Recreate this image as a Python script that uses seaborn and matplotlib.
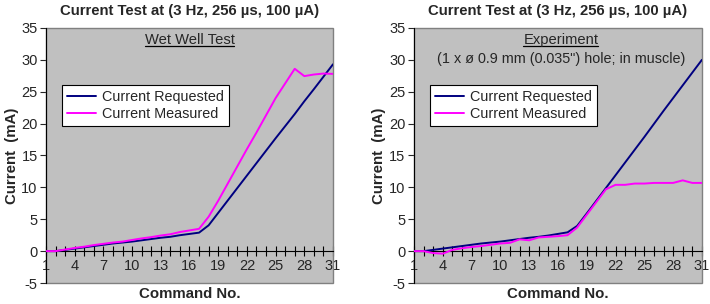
import numpy as np
import pandas as pd
import matplotlib
matplotlib.use('Agg')
import matplotlib.pyplot as plt
import seaborn as sns
from matplotlib.patches import Rectangle
from matplotlib.lines import Line2D

sns.set_style('ticks')
plt.rcParams['font.family'] = ['Liberation Sans', 'DejaVu Sans']
plt.rcParams['axes.unicode_minus'] = False

# ---- data ----
commands = list(range(1, 32))

wet_requested = [0, 0, 0.2, 0.4, 0.6, 0.8, 1.0, 1.2, 1.35, 1.5, 1.7, 1.9, 2.1, 2.25, 2.5, 2.7, 2.9,
                 4.05, 6.0, 7.95, 9.9, 11.85, 13.8, 15.75, 17.7, 19.6, 21.5, 23.5, 25.4, 27.35, 29.3]
wet_measured = [0, 0, 0.25, 0.5, 0.7, 0.95, 1.15, 1.35, 1.5, 1.75, 2.0, 2.2, 2.45, 2.65, 3.0, 3.25, 3.5,
                5.4, 7.9, 10.6, 13.3, 16.0, 18.6, 21.3, 24.0, 26.3, 28.6, 27.45, 27.7, 27.85, 27.8]

exp_requested = [0, 0, 0.2, 0.4, 0.6, 0.8, 1.0, 1.2, 1.35, 1.5, 1.7, 1.9, 2.1, 2.25, 2.45, 2.7, 2.95,
                 3.95, 5.9, 7.9, 9.9, 11.9, 13.9, 15.9, 17.9, 19.95, 22.0, 24.0, 26.0, 28.0, 30.0]
exp_measured = [0, 0, -0.3, -0.4, 0.2, 0.45, 0.65, 0.8, 1.0, 1.2, 1.3, 1.85, 1.7, 2.15, 2.25, 2.35, 2.5,
                3.7, 5.7, 7.7, 9.7, 10.4, 10.4, 10.6, 10.6, 10.7, 10.7, 10.7, 11.1, 10.7, 10.7]

title = 'Current Test at (3 Hz, 256 µs, 100 µA)'
x_ticks = list(range(1, 32, 3))
y_ticks = list(range(-5, 36, 5))

BLUE = '#000080'
MAGENTA = '#FF00FF'
BG = '#C0C0C0'


def underlined(fig, ax, x, y, s, fs):
    t = ax.text(x, y, s, transform=ax.transAxes, ha='center', va='center', fontsize=fs)
    fig.canvas.draw()
    bb = t.get_window_extent().transformed(ax.transAxes.inverted())
    ax.add_line(Line2D([bb.x0, bb.x1], [bb.y0 + 0.004, bb.y0 + 0.004], transform=ax.transAxes,
                       color='black', lw=0.9, clip_on=False))


def draw_panel(fig, ax, requested, measured):
    df = pd.DataFrame({'Command': commands * 2,
                       'Current': requested + measured,
                       'Series': ['Current Requested'] * len(commands) + ['Current Measured'] * len(commands)})
    sns.lineplot(data=df, x='Command', y='Current', hue='Series',
                 palette={'Current Requested': BLUE, 'Current Measured': MAGENTA},
                 linewidth=1.4, ax=ax, zorder=3)
    ax.set_facecolor(BG)
    ax.set_xlim(1, 31)
    ax.set_ylim(-5, 35)
    ax.set_xticks(x_ticks)
    ax.set_xticks(commands, minor=True)
    ax.set_yticks(y_ticks)
    ax.spines['bottom'].set_position(('data', 0))
    ax.spines['bottom'].set_color('black')
    ax.spines['bottom'].set_linewidth(0.8)
    ax.spines['left'].set_color('black')
    ax.spines['left'].set_linewidth(0.8)
    ax.spines['top'].set_visible(False)
    ax.spines['right'].set_visible(False)
    ax.add_patch(Rectangle((0, 0), 1, 1, transform=ax.transAxes, fill=False,
                           edgecolor='#808080', lw=1.0, zorder=1, clip_on=False))
    ax.tick_params(axis='x', which='both', direction='inout', length=7, width=0.8,
                   labelsize=10.5, pad=2, color='black')
    ax.tick_params(axis='y', direction='out', length=4, width=0.8, labelsize=10.5, pad=2)
    ax.set_xlabel('Command No.', fontweight='bold', fontsize=10.8)
    ax.xaxis.set_label_coords(0.5, -0.015)
    ax.set_ylabel('Current  (mA)', fontweight='bold', fontsize=10.8, labelpad=2)
    ax.set_title(title, fontweight='bold', fontsize=10.7, pad=9)
    ax.grid(False)
    leg = ax.legend(loc='upper left', bbox_to_anchor=(0.055, 0.776), frameon=True, fancybox=False,
                    fontsize=10.4, handlelength=2.0, borderpad=0.35, labelspacing=0.18,
                    handletextpad=0.45, borderaxespad=0)
    leg.get_frame().set_edgecolor('black')
    leg.get_frame().set_linewidth(0.8)
    leg.get_frame().set_facecolor('white')
    leg.get_frame().set_alpha(1)
    leg.set_zorder(5)


fig = plt.figure(figsize=(7.1, 3.04), dpi=100)
ax1 = fig.add_axes([0.0648, 0.069, 0.4042, 0.839])
ax2 = fig.add_axes([0.583, 0.069, 0.4056, 0.839])

draw_panel(fig, ax1, wet_requested, wet_measured)
draw_panel(fig, ax2, exp_requested, exp_measured)

underlined(fig, ax1, 0.5, 0.953, 'Wet Well Test', 10.6)
underlined(fig, ax2, 0.51, 0.953, 'Experiment', 10.6)
ax2.text(0.51, 0.878, '(1 x ø 0.9 mm (0.035") hole; in muscle)', transform=ax2.transAxes,
         ha='center', va='center', fontsize=10.4)

fig.savefig('out.png', dpi=100)
